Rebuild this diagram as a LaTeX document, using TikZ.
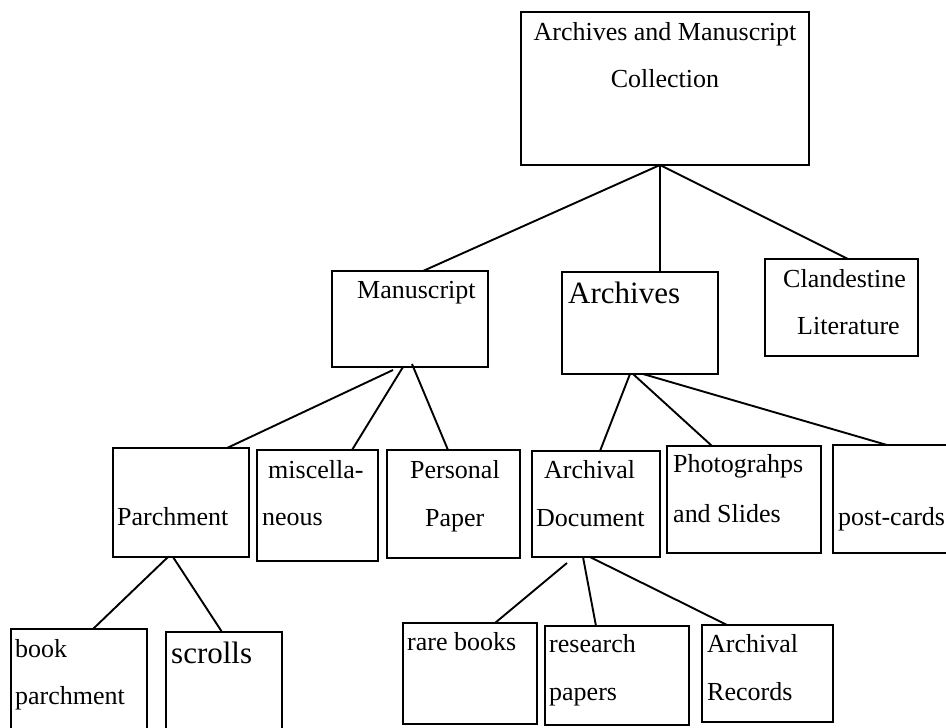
\documentclass[tikz,border=0pt]{standalone}
\usepackage{fontspec}
\setmainfont{Liberation Serif}
\begin{document}
\begin{tikzpicture}[x=1pt,y=-1pt,
  box/.style={draw, line width=2pt, inner sep=0pt, outer sep=0pt, anchor=north west},
  lbl/.style={anchor=base west, inner sep=0pt, font=\fontsize{26}{30}\selectfont},
  lblc/.style={anchor=base, inner sep=0pt, font=\fontsize{26}{30}\selectfont},
  biglbl/.style={anchor=base west, inner sep=0pt, font=\fontsize{31}{36}\selectfont},
  link/.style={line width=1.9pt}]
\useasboundingbox (0,0) rectangle (946,728);

% boxes
\node[box, minimum width=288pt, minimum height=153pt] (top)  at (521,12)  {};
\node[box, minimum width=156pt, minimum height=96pt]  (man)  at (332,271) {};
\node[box, minimum width=156pt, minimum height=102pt] (arc)  at (562,272) {};
\node[box, minimum width=153pt, minimum height=97pt]  (cla)  at (765,259) {};
\node[box, minimum width=136pt, minimum height=109pt] (par)  at (113,448) {};
\node[box, minimum width=121pt, minimum height=111pt] (mis)  at (257,450) {};
\node[box, minimum width=133pt, minimum height=108pt] (per)  at (387,450) {};
\node[box, minimum width=128pt, minimum height=106pt] (adoc) at (532,451) {};
\node[box, minimum width=154pt, minimum height=107pt] (pho)  at (667,446) {};
\node[box, minimum width=119pt, minimum height=108pt] (pos)  at (833,445) {};
\node[box, minimum width=136pt, minimum height=111pt] (bkp)  at (11,629)  {};
\node[box, minimum width=116pt, minimum height=108pt] (scr)  at (166,632) {};
\node[box, minimum width=134pt, minimum height=101pt] (rare) at (403,623) {};
\node[box, minimum width=144pt, minimum height=99pt]  (res)  at (545,626) {};
\node[box, minimum width=131pt, minimum height=97pt]  (arec) at (702,625) {};

% labels
\node[lblc] (t1) at (665,40) {Archives and Manuscript};
\node[lblc] (t2) at (665,87) {Collection};
\node[lbl] (t3) at (357,298) {Manuscript};
\node[biglbl] (t4) at (568,303) {Archives};
\node[lbl] (t5) at (783,287) {Clandestine};
\node[lbl] (t6) at (797,334) {Literature};
\node[lbl] (t7) at (117,525) {Parchment};
\node[lbl] (t8) at (268,478) {miscella-};
\node[lbl] (t9) at (262,525) {neous};
\node[lbl] (t10) at (410,478) {Personal};
\node[lbl] (t11) at (425,526) {Paper};
\node[lbl] (t12) at (544,478) {Archival};
\node[lbl] (t13) at (536,526) {Document};
\node[lbl] (t14) at (673,472) {Photograhps};
\node[lbl] (t15) at (673,522) {and Slides};
\node[lbl] (t16) at (838,525) {post-cards};
\node[lbl] (t17) at (15,657) {book};
\node[lbl] (t18) at (15,704) {parchment};
\node[biglbl] (t19) at (171,663) {scrolls};
\node[lbl] (t20) at (407,650) {rare books};
\node[lbl] (t21) at (549,652) {research};
\node[lbl] (t22) at (549,700) {papers};
\node[lbl] (t23) at (707,652) {Archival};
\node[lbl] (t24) at (707,700) {Records};

% connectors
\draw[link] ([xshift=-5pt]top.south) -- ([xshift=13pt]man.north);
\draw[link] ([xshift=-5pt]top.south) -- ([xshift=20pt]arc.north);
\draw[link] ([xshift=-5pt]top.south) -- ([xshift=6.5pt]cla.north);

\draw[link] ([xshift=-17pt,yshift=-3pt]man.south) -- ([xshift=46pt]par.north);
\draw[link] ([xshift=-7pt]man.south) -- ([xshift=34.5pt]mis.north);
\draw[link] ([xshift=2pt,yshift=3pt]man.south) -- ([xshift=-5.5pt]per.north);

\draw[link] ([xshift=-10pt]arc.south) -- ([xshift=4pt]adoc.north);
\draw[link] ([xshift=-7pt]arc.south) -- ([xshift=-32pt]pho.north);
\draw[link] ([xshift=3pt]arc.south) -- ([xshift=-5.5pt]pos.north);

\draw[link] ([xshift=-13pt]par.south) -- ([xshift=14pt]bkp.north);
\draw[link] ([xshift=-8pt]par.south) -- ([xshift=-2pt]scr.north);

\draw[link] ([xshift=-29pt,yshift=-6pt]adoc.south) -- ([xshift=25pt]rare.north);
\draw[link] ([xshift=-13pt]adoc.south) -- ([xshift=-21pt]res.north);
\draw[link] ([xshift=-6pt]adoc.south) -- ([xshift=-40.5pt]arec.north);
\end{tikzpicture}
\end{document}
